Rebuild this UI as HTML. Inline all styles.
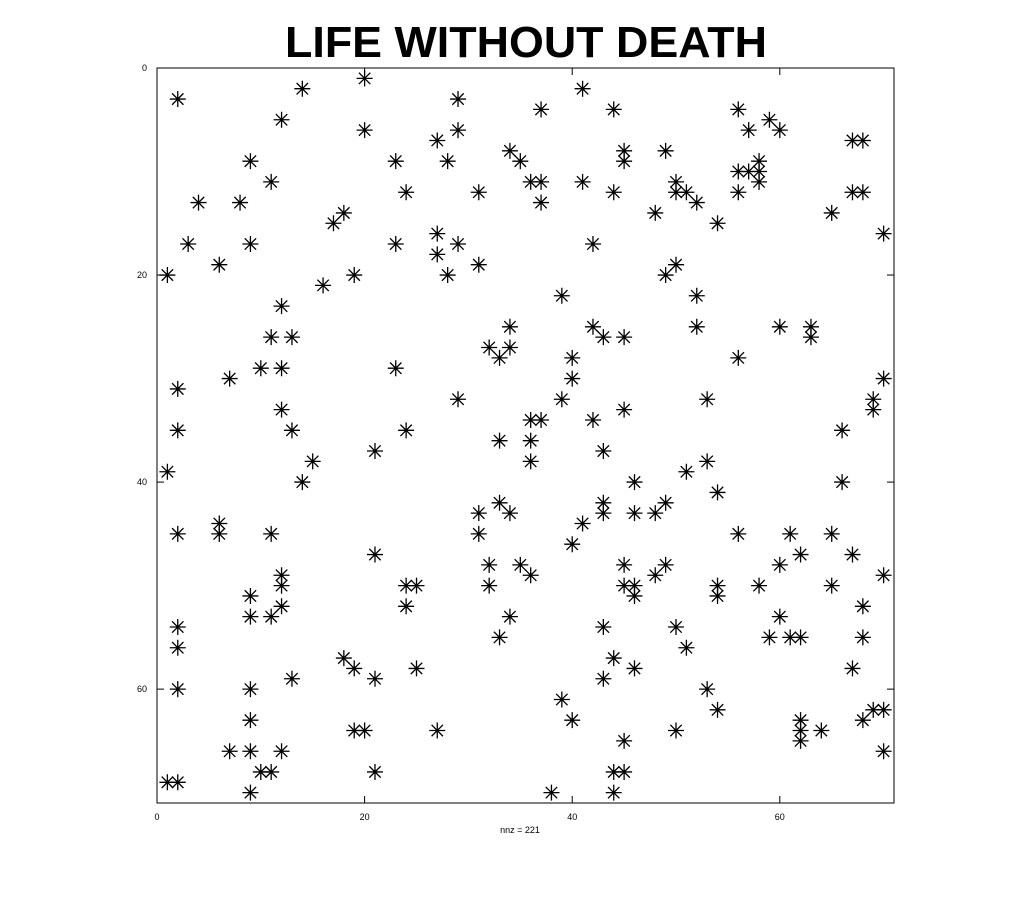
<!DOCTYPE html>
<html><head><meta charset="utf-8"><style>
html,body{margin:0;padding:0;background:#fff;}
body{width:1017px;height:904px;overflow:hidden;font-family:"Liberation Sans",sans-serif;}
</style></head><body>
<svg width="1017" height="904" xmlns="http://www.w3.org/2000/svg">
<text x="526" y="57" text-anchor="middle" font-size="44" font-weight="bold" textLength="482" lengthAdjust="spacingAndGlyphs" font-family="Liberation Sans,sans-serif">LIFE WITHOUT DEATH</text>
<rect x="157" y="68" width="737" height="735" fill="none" stroke="#000" stroke-width="1"/>
<g id="ticks"></g>
<g id="marks"></g>
<text x="520" y="833" text-anchor="middle" font-size="9">nnz = 221</text>
</svg>
<script>
const cols=[2,14,20,12,29,41,37,44,56,20,29,27,59,57,60,67,68,9,23,28,34,35,45,45,49,58,56,57,58,58,11,36,37,41,50,4,8,24,31,44,50,51,52,37,56,67,68,18,17,48,65,54,3,9,23,27,29,42,70,1,6,19,27,28,31,49,50,16,39,52,12,11,13,34,42,43,45,52,60,63,63,32,33,34,40,56,10,12,23,7,40,70,2,29,39,53,69,69,12,45,2,13,24,36,37,42,66,33,36,21,43,15,36,53,1,51,14,46,66,54,33,43,43,49,31,34,46,48,41,6,6,2,11,31,56,61,65,40,21,62,67,32,35,45,49,60,12,12,36,48,70,24,25,32,45,46,46,54,54,58,65,9,12,24,68,9,11,34,60,2,43,50,33,59,61,62,68,2,51,18,44,19,25,46,67,13,21,43,2,9,53,39,54,69,70,9,40,68,62,62,62,19,20,27,50,64,45,7,9,12,70,10,11,21,44,45,1,2,9,38,44];
const rows=[3,2,1,5,3,2,4,4,4,6,6,7,5,6,6,7,7,9,9,9,8,9,8,9,8,9,10,10,10,11,11,11,11,11,11,13,13,12,12,12,12,12,13,13,12,12,12,14,15,14,14,15,17,17,17,16,17,17,16,20,19,20,18,20,19,20,19,21,22,22,23,26,26,25,25,26,26,25,25,25,26,27,28,27,28,28,29,29,29,30,30,30,31,32,32,32,32,33,33,33,35,35,35,34,34,34,35,36,36,37,37,38,38,38,39,39,40,40,40,41,42,42,43,42,43,43,43,43,44,44,45,45,45,45,45,45,45,46,47,47,47,48,48,48,48,48,49,50,49,49,49,50,50,50,50,50,51,50,51,50,50,51,52,52,52,53,53,53,53,54,54,54,55,55,55,55,55,56,56,57,57,58,58,58,58,59,59,59,60,60,60,61,62,62,62,63,63,63,63,64,65,64,64,64,64,64,65,66,66,66,66,68,68,68,68,68,69,69,70,70,70];
const xTicks=[0,20,40,60];
const yTicks=[0,20,40,60];
const X0=157,Y0=68,W=737,H=735,LIM=71;
const sx=v=>X0+v*W/LIM, sy=v=>Y0+v*H/LIM;
const NS='http://www.w3.org/2000/svg';
const tg=document.getElementById('ticks');
xTicks.forEach(t=>{
  const l=document.createElementNS(NS,'line');
  l.setAttribute('x1',sx(t));l.setAttribute('x2',sx(t));l.setAttribute('y1',Y0+H);l.setAttribute('y2',Y0+H-7);l.setAttribute('stroke','#000');
  
  
  tg.appendChild(l);
  const l2=document.createElementNS(NS,'line');
  l2.setAttribute('x1',sx(t));l2.setAttribute('x2',sx(t));l2.setAttribute('y1',Y0);l2.setAttribute('y2',Y0+7);l2.setAttribute('stroke','#000');
  
  
  tg.appendChild(l2);
  const tx=document.createElementNS(NS,'text');
  tx.setAttribute('x',sx(t));tx.setAttribute('y',Y0+H+17);tx.setAttribute('text-anchor','middle');tx.setAttribute('font-size','9');
  tx.textContent=t;
  
  
  tg.appendChild(tx);
});
yTicks.forEach(t=>{
  const l=document.createElementNS(NS,'line');
  l.setAttribute('x1',X0);l.setAttribute('x2',X0+7);l.setAttribute('y1',sy(t));l.setAttribute('y2',sy(t));l.setAttribute('stroke','#000');
  
  
  tg.appendChild(l);
  const l2=document.createElementNS(NS,'line');
  l2.setAttribute('x1',X0+W);l2.setAttribute('x2',X0+W-7);l2.setAttribute('y1',sy(t));l2.setAttribute('y2',sy(t));l2.setAttribute('stroke','#000');
  
  
  tg.appendChild(l2);
  const tx=document.createElementNS(NS,'text');
  tx.setAttribute('x',X0-10);tx.setAttribute('y',sy(t)+3);tx.setAttribute('text-anchor','end');tx.setAttribute('font-size','9');
  tx.textContent=t;
  
  
  tg.appendChild(tx);
});
const mg=document.getElementById('marks');
const r=8,d=5.7;
cols.forEach((c,i)=>{
  const x=sx(c),y=sy(rows[i]);
  const p=document.createElementNS(NS,'path');
  p.setAttribute('d',`M${x-r} ${y}H${x+r}M${x} ${y-r}V${y+r}M${x-d} ${y-d}L${x+d} ${y+d}M${x-d} ${y+d}L${x+d} ${y-d}`);
  p.setAttribute('stroke','#000');p.setAttribute('stroke-width','1.3');p.setAttribute('fill','none');
  
  
  mg.appendChild(p);
});
</script>
</body></html>
